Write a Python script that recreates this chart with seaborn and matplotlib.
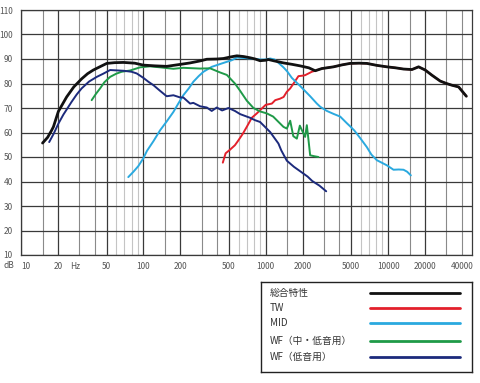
import numpy as np
import pandas as pd
import matplotlib
matplotlib.use("Agg")
import matplotlib.pyplot as plt
import seaborn as sns

# -- Data ------------------------------------------------------
total_f = [15, 16.5, 17.8, 18.4, 20.2, 23.6, 27, 31.3, 35, 39, 44, 50.2, 58, 68.7, 85,
           100, 125, 155, 200, 241, 290, 330, 400, 451, 511, 581, 660, 745, 820, 899,
           1000, 1050, 1156, 1396, 1650, 1910, 2250, 2535, 2876, 3580, 4200, 4900,
           5800, 6710, 8090, 9780, 11500, 13370, 15660, 17750, 20100, 22800, 26650,
           30000, 33240, 37700, 43600]
total_db = [55.7, 58.0, 60.9, 62.3, 68.6, 74.5, 78.6, 81.9, 84.0, 85.5, 86.8, 88.2,
            88.5, 88.6, 88.3, 87.5, 87.2, 87.0, 87.8, 88.4, 89.2, 89.9, 90.0, 90.2,
            90.8, 91.3, 91.0, 90.5, 90.0, 89.3, 89.5, 89.8, 89.3, 88.4, 87.8, 87.2,
            86.4, 85.2, 86.1, 86.8, 87.6, 88.2, 88.3, 88.2, 87.4, 86.8, 86.4, 85.9,
            85.7, 86.8, 85.5, 83.4, 81.0, 80.0, 79.3, 78.6, 74.8]

tw_f = [446, 470, 511, 560, 598, 650, 700, 769, 846, 899, 929, 1000, 1122, 1196,
        1309, 1400, 1487, 1585, 1688, 1850, 2000, 2099, 2383, 2535]
tw_db = [47.7, 51.5, 53.0, 54.8, 56.8, 59.5, 62.3, 66.0, 67.8, 69.1, 69.8, 71.3,
         71.8, 73.2, 73.8, 74.5, 76.6, 78.0, 80.0, 83.0, 83.2, 83.4, 84.8, 85.2]

mid_f = [75.3, 83, 91, 100, 107, 121, 137, 155, 176, 194, 212, 235, 256, 283, 310,
         362, 451, 528, 581, 660, 745, 899, 1000, 1086, 1180, 1280, 1396, 1500, 1634,
         1910, 2307, 2618, 2790, 3160, 3580, 4060, 4600, 4900, 5300, 5900, 6710, 7300,
         8090, 9780, 11070, 12200, 13370, 14300, 15350]
mid_db = [41.8, 44.0, 46.3, 49.5, 52.5, 56.5, 60.9, 64.5, 68.4, 72.0, 75.2, 78.0,
          80.7, 83.0, 84.8, 86.8, 88.4, 89.5, 90.6, 90.4, 90.2, 89.8, 89.8, 90.2,
          89.8, 88.3, 86.6, 84.9, 82.3, 79.0, 74.8, 71.8, 70.5, 68.8, 67.6, 66.5,
          63.8, 62.5, 60.8, 57.8, 54.0, 51.0, 48.7, 46.6, 44.8, 44.9, 44.8, 44.0, 42.5]

wf_mid_f = [37.8, 41, 44.3, 48, 53.5, 60, 66.5, 77.8, 94, 113, 137, 176, 212, 291,
            351, 424, 481, 560, 618, 700, 794, 899, 1020, 1150, 1232, 1396, 1487,
            1585, 1680, 1796, 1900, 1973, 2099, 2167, 2230, 2307, 2500, 2698]
wf_mid_db = [73.2, 75.8, 78.0, 80.5, 82.7, 84.0, 84.8, 85.3, 86.6, 87.0, 86.6, 86.0,
             86.4, 86.1, 86.2, 84.5, 83.5, 80.0, 77.0, 73.0, 70.0, 68.6, 67.8, 66.5,
             65.0, 62.3, 61.6, 64.8, 58.5, 57.5, 62.8, 61.0, 58.2, 63.0, 57.5, 50.7,
             50.3, 50.0]

wf_low_f = [17, 18.5, 20.2, 22.2, 25.9, 28.5, 31.3, 36, 41.6, 47, 53.5, 68.7, 80,
            88.3, 100, 110, 121, 137, 155, 176, 200, 212, 241, 256, 291, 330, 362,
            398, 440, 496, 560, 618, 700, 745, 820, 899, 1086, 1270, 1340, 1487, 1700,
            1910, 2200, 2400, 2750, 3120]
wf_low_db = [56.1, 59.5, 63.6, 67.3, 72.5, 75.5, 78.0, 80.8, 82.7, 84.0, 85.5, 85.2,
             84.8, 84.1, 82.3, 80.7, 79.3, 77.0, 74.8, 75.2, 74.3, 74.3, 71.8, 72.1,
             70.7, 70.2, 68.8, 70.2, 69.0, 70.0, 68.8, 67.5, 66.5, 66.0, 65.0, 64.3,
             60.2, 55.5, 52.7, 48.5, 46.0, 44.2, 42.0, 40.2, 38.3, 36.0]

# TW runs underneath the total curve above ~2.5 kHz
tw_f = tw_f + total_f[total_f.index(2535) + 1:]
tw_db = tw_db + total_db[total_f.index(2535) + 1:]

labels = ["総合特性", "TW", "MID", "WF（中・低音用）", "WF（低音用）"]
colors = ["#111111", "#e3202b", "#2aa9df", "#1f9a48", "#1c2a7c"]
series = [(total_f, total_db), (tw_f, tw_db), (mid_f, mid_db),
          (wf_mid_f, wf_mid_db), (wf_low_f, wf_low_db)]

x_ticks = [10, 20, 27.9, 50, 100, 200, 500, 1000, 2000, 5000, 10000, 20000, 40000]
x_labels = ["10", "20", "Hz", "50", "100", "200", "500", "1000", "2000", "5000",
            "10000", "20000", "40000"]
y_ticks = list(range(10, 111, 10))

# -- Style ------------------------------------------------------
sns.set_theme(style="white")
plt.rcParams["font.family"] = ["Noto Sans CJK JP", "DejaVu Sans"]

fig = plt.figure(figsize=(4.8, 3.83), dpi=100)
ax = fig.add_axes([21 / 480, 1 - 255 / 383, 451 / 480, 245 / 383])
ax.set_xscale("log")
ax.set_xlim(10, 48500)
ax.set_ylim(10, 110)

# grid: three shades of vertical lines per decade
dark_v, mid_v, light_v = [], [], []
for dec in [10, 100, 1000, 10000]:
    dark_v += [dec, 2 * dec, 5 * dec]
    mid_v += [1.5 * dec, 3 * dec, 4 * dec]
    light_v += [6 * dec, 7 * dec, 8 * dec, 9 * dec]
dark_v = [v for v in dark_v if v <= 40000]
ax.vlines(light_v, 10, 110, color="#c4c4c4", lw=0.8, zorder=0)
ax.vlines(mid_v, 10, 110, color="#8a8a8a", lw=0.8, zorder=0)
ax.vlines(dark_v, 10, 110, color="#3a3a3a", lw=0.9, zorder=0)
ax.hlines(y_ticks, 10, 48500, color="#3a3a3a", lw=0.9, zorder=0)
for s in ax.spines.values():
    s.set_color("#3a3a3a")
    s.set_linewidth(0.9)

# curves (TW first so the total curve sits on top)
order = [1, 2, 3, 4, 0]
for i in order:
    f, db = series[i]
    df = pd.DataFrame({"f": f, "db": db})
    sns.lineplot(data=df, x="f", y="db", ax=ax, color=colors[i],
                 lw=2.0 if i == 0 else 1.4, sort=False, estimator=None,
                 zorder=3 if i == 0 else 2)

ax.set_xlabel("")
ax.set_ylabel("")
ax.set_xticks(x_ticks)
ax.set_xticklabels(x_labels)
ax.xaxis.set_minor_locator(matplotlib.ticker.NullLocator())
ax.set_yticks(y_ticks)
ax.tick_params(axis="both", length=0, labelsize=6, colors="#555555")
ax.tick_params(axis="x", pad=5)
ax.tick_params(axis="y", pad=6)
ax.get_xticklabels()[0].set_horizontalalignment("left")
ax.text(8.0, 5.6, "dB", fontsize=6, color="#555555", ha="center", va="center",
        clip_on=False)

# legend box drawn by hand
lax = fig.add_axes([261 / 480, 1 - 372 / 383, 211 / 480, 90 / 383])
lax.set_xlim(0, 211)
lax.set_ylim(90, 0)
lax.set_xticks([])
lax.set_yticks([])
for s in lax.spines.values():
    s.set_color("#222222")
    s.set_linewidth(1.0)
rows = [10.7, 26.3, 41.3, 58.7, 75.3]
for lab, col, yy in zip(labels, colors, rows):
    lax.text(9, yy, lab, fontsize=7, color="#333333", ha="left", va="center")
    lax.plot([109, 199], [yy, yy], color=col, lw=2.0)

fig.savefig("out.png", dpi=100)
